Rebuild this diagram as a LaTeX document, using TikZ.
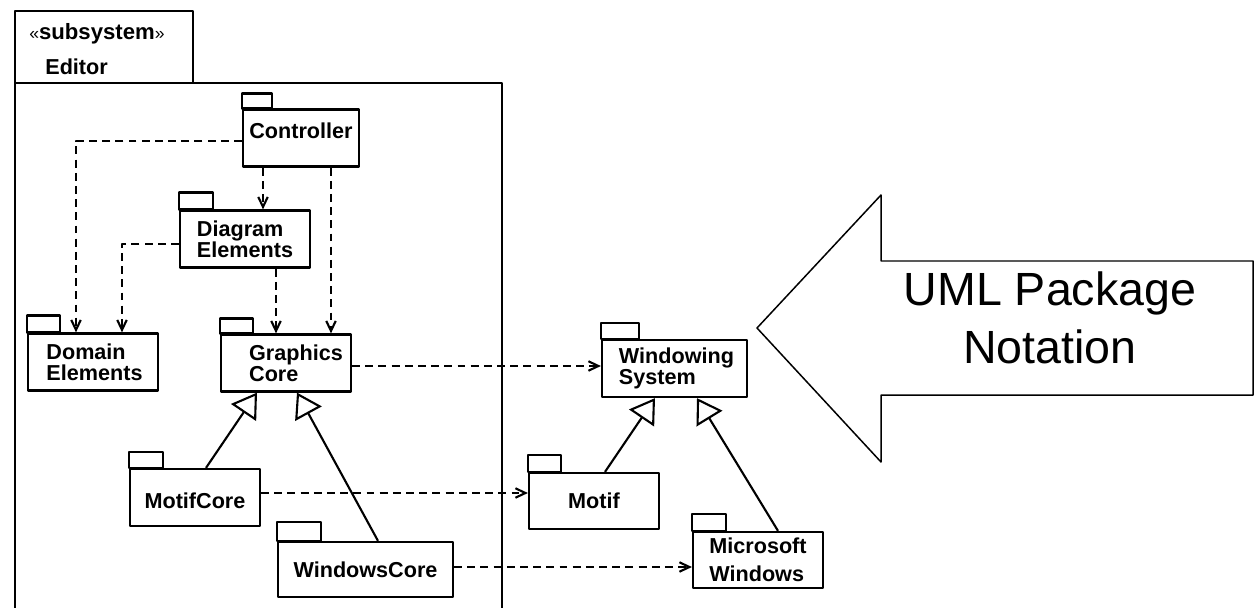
\documentclass[tikz,border=0pt]{standalone}
\usepackage{fontspec}
\setmainfont{Liberation Sans}
\usepackage{tikz}
\usetikzlibrary{arrows.meta}
\tikzset{
  every picture/.style={line join=round, line cap=butt, >=Stealth},
  pkg/.style={draw, line width=1.3pt, inner sep=0pt, minimum width=2.6cm, minimum height=1.14cm,
    align=left, font=\fontsize{12.3}{12}\selectfont\bfseries},
  dep/.style={-{Straight Barb[length=2mm,width=1.9mm]}, line width=1.2pt, dash pattern=on 4.5pt off 3pt},
  gen/.style={-{Triangle[open,length=4.8mm,width=6mm]}, line width=1.2pt},
}
\newcommand{\pkgtab}[3]{\draw[line width=1.3pt] (#1.north west) rectangle ++(#2,-#3);}

\begin{document}
\begin{tikzpicture}[x=0.02cm,y=-0.02cm]
\useasboundingbox (0,0) rectangle (1254,608);
% subsystem frame
\draw[line width=1.3pt] (15,83) rectangle (193,11);
\draw[line width=1.3pt] (15,608) -- (15,83) -- (502,83) -- (502,608);
\node[anchor=west, inner sep=0pt, font=\fontsize{12.6}{12}\selectfont\bfseries] (stereo) at (29,34)
  {{\mdseries\fontsize{10}{10}\selectfont«}subsystem{\mdseries\fontsize{10}{10}\selectfont»}};
\node[anchor=west, inner sep=0pt, font=\fontsize{12.3}{12}\selectfont\bfseries] (editor) at (45,67) {Editor};
% packages
\node[pkg, minimum width=2.32cm] (ctrl) at (301,138) {Controller\\[-4pt]\mbox{}};
\node[pkg] (diag) at (245,239) {Diagram\\Elements};
\node[pkg] (domain) at (93,362) {\hspace*{0.06cm}Domain\\\hspace*{0.06cm}Elements};
\node[pkg] (gcore) at (286,363) {\hspace*{0.4cm}Graphics\\\hspace*{0.4cm}Core};
\node[pkg] (mcore) at (195,497.5) {\mbox{}\\[1pt]MotifCore};
\node[pkg, minimum width=3.5cm, minimum height=1.1cm] (wcore) at (365.5,569.5) {WindowsCore};
\node[pkg, minimum width=2.9cm] (wsys) at (674.5,368.5) {\hspace*{0.08cm}Windowing\\\hspace*{0.08cm}System};
\node[pkg, minimum height=1.12cm] (motif) at (594,501) {Motif};
\node[pkg, minimum height=1.12cm] (mswin) at (758,560) {Microsoft\\[4pt]Windows};
\pkgtab{ctrl}{30}{15}
\pkgtab{diag}{34}{17}
\pkgtab{domain}{33}{17}
\pkgtab{gcore}{33}{15}
\pkgtab{mcore}{34}{16}
\pkgtab{wcore}{44}{19}
\pkgtab{wsys}{38}{16}
\pkgtab{motif}{33}{17}
\pkgtab{mswin}{34}{17}
% dependencies
\draw[dep] ([yshift=-0.06cm]ctrl.west) -| ([xshift=-0.34cm]domain.north);
\draw[dep] ([yshift=-0.1cm]diag.west) -| ([xshift=0.58cm]domain.north);
\draw[dep] ([xshift=-0.76cm]ctrl.south) -- ([xshift=-0.76cm]ctrl.south |- diag.north);
\draw[dep] ([xshift=0.6cm]ctrl.south) -- ([xshift=0.6cm]ctrl.south |- gcore.north);
\draw[dep] ([xshift=0.62cm]diag.south) -- ([xshift=0.62cm]diag.south |- gcore.north);
\draw[dep] ([yshift=-0.06cm]gcore.east) -- ([yshift=-0.06cm]gcore.east -| wsys.west);
\draw[dep] ([yshift=0.09cm]mcore.east) -- ([yshift=0.09cm]mcore.east -| motif.west);
\draw[dep] ([yshift=0.05cm]wcore.east) -- ([yshift=0.05cm]wcore.east -| mswin.west);
% generalizations
\draw[gen] ([xshift=0.22cm]mcore.north) -- ([xshift=-0.58cm]gcore.south);
\draw[gen] ([xshift=0.25cm]wcore.north) -- ([xshift=0.22cm]gcore.south);
\draw[gen] ([xshift=0.22cm]motif.north) -- ([xshift=-0.39cm]wsys.south);
\draw[gen] ([xshift=0.4cm]mswin.north) -- ([xshift=0.45cm]wsys.south);
% big arrow
\draw[line width=0.85pt] (757,328) -- (881,195) -- (881,261) -- (1253,261) -- (1253,395)
  -- (881,395) -- (881,462) -- cycle;
\node[align=center, font=\fontsize{26.5}{33}\selectfont] (note) at (1050,318) {UML Package\\Notation};
\end{tikzpicture}
\end{document}
